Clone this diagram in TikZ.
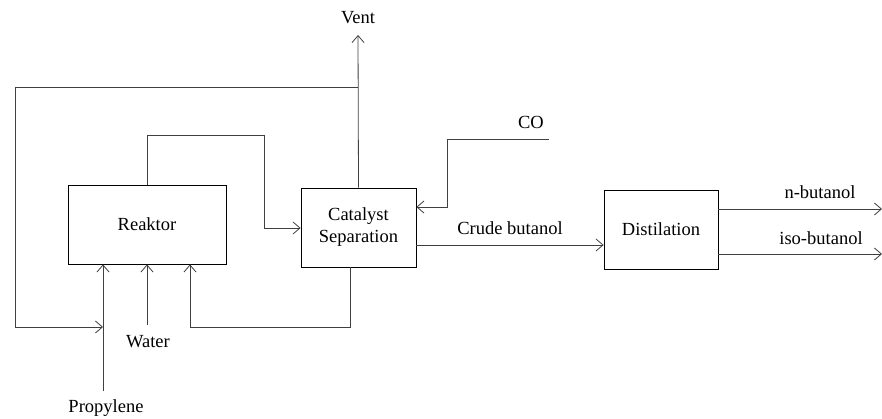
\documentclass[tikz,border=0pt]{standalone}
\usepackage{fontspec}
\setmainfont{Liberation Serif}
\usetikzlibrary{arrows.meta}

\begin{document}
\begin{tikzpicture}[x=1pt, y=-1pt, line width=0.8pt,
    every node/.style={font=\fontsize{18.5}{22}\selectfont},
    unit/.style={draw, align=center, inner sep=0pt},
    flow/.style={-{Straight Barb[length=7pt, width=12pt]}, draw=black!75}]
    \useasboundingbox (0,0) rectangle (882,419);
    % Nodes
    \node[unit, minimum width=158pt, minimum height=79pt] (rea) at (147,224.5) {Reaktor};
    \node[unit, minimum width=115pt, minimum height=79pt] (cat) at (358.5,227.5) {Catalyst\\Separation};
    \node[unit, minimum width=114pt, minimum height=79pt] (dist) at (661,229.5) {Distilation};
    \node (vent) at (358,18) {Vent};
    \node (water) at (148,342) {Water};
    \node (prop) at (106,408) {Propylene};
    \node (co) at (531,122) {CO};
    \node (crude) at (510,228) {Crude butanol};
    \node (nbut) at (820,192) {n-butanol};
    \node (ibut) at (821,238) {iso-butanol};
    % Free ends
    \coordinate (ventend) at (358,35);
    \coordinate (split) at (358,87);
    \coordinate (propin) at (103,391);
    \coordinate (waterin) at (147,325);
    \coordinate (coin) at (549,139);
    \coordinate (nout) at (882,209);
    \coordinate (iout) at (882,254);
    % Arrows
    \draw[flow] (cat.north) -- (ventend);
    \draw[flow] (split) -- (15,87) -- (15,327) -- (103,327);
    \draw[flow] (propin) -- (propin |- rea.south);
    \draw[flow] (waterin) -- (waterin |- rea.south);
    \draw[flow] (cat.south -| 350,0) -- (350,327) -| (rea.south -| 190,0);
    \draw[flow] (rea.north) -- (147,135) -| (264,228) -- (cat.west |- 0,228);
    \draw[flow] (coin) -| (447,207) -- (cat.east |- 0,207);
    \draw[flow] (cat.east |- 0,245) -- (dist.west |- 0,245);
    \draw[flow] (dist.east |- nout) -- (nout);
    \draw[flow] (dist.east |- iout) -- (iout);
\end{tikzpicture}
\end{document}
